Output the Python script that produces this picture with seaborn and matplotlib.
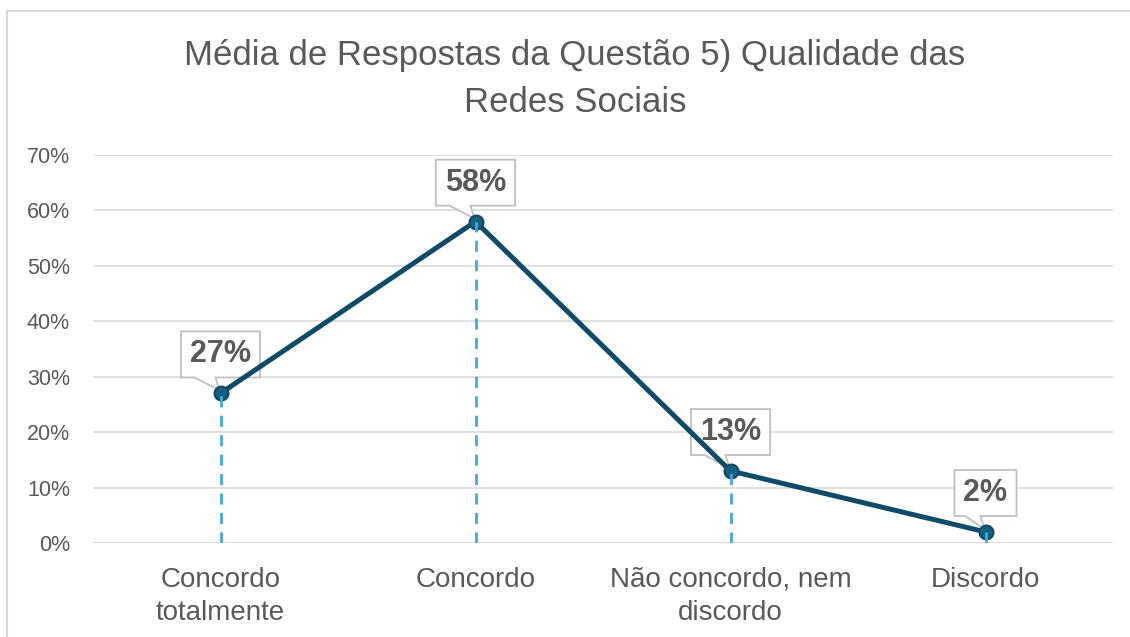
import matplotlib
matplotlib.use("Agg")
import matplotlib.pyplot as plt
import matplotlib.transforms as mtransforms
import seaborn as sns
import pandas as pd
from matplotlib.patches import Polygon
from matplotlib.lines import Line2D
from matplotlib.ticker import PercentFormatter, MultipleLocator

categories = ["Concordo\ntotalmente", "Concordo", "Não concordo, nem\ndiscordo", "Discordo"]
values = [0.27, 0.58, 0.13, 0.02]
labels = ["27%", "58%", "13%", "2%"]
title = "Média de Respostas da Questão 5) Qualidade das\nRedes Sociais"

sns.set_theme(style="white")
plt.rcParams["font.family"] = ["Liberation Sans", "DejaVu Sans"]

TXT = "#595959"
LINE = "#0F4A66"
MARK = "#156082"
DROP = "#45A8DC"
GRID = "#D9D9D9"

df = pd.DataFrame({"cat": categories, "val": values, "pos": range(len(categories))})

fig = plt.figure(figsize=(11.3, 6.37), dpi=100)
ax = fig.add_axes([93 / 1130, 1 - 543 / 637, 1020 / 1130, 388 / 637])

sns.lineplot(data=df, x="pos", y="val", ax=ax, color=LINE, linewidth=3.6, zorder=4,
             marker="o", markersize=10, markerfacecolor=MARK, markeredgecolor=LINE,
             markeredgewidth=1.5)

# drop lines
for p, v in zip(df["pos"], df["val"]):
    ax.plot([p, p], [0, v], color=DROP, linestyle=(0, (4, 3)), linewidth=2, zorder=6)

ax.set_xlim(-0.5, len(categories) - 0.5)
ax.set_ylim(0, 0.70)
ax.yaxis.set_major_locator(MultipleLocator(0.1))
ax.yaxis.set_major_formatter(PercentFormatter(1.0, decimals=0))
ax.set_xticks(list(df["pos"]))
ax.set_xticklabels(categories, fontsize=20, color=TXT, linespacing=1.35)
ax.tick_params(axis="y", labelsize=15.5, labelcolor=TXT, length=0, pad=16.5)
ax.tick_params(axis="x", length=0, pad=17)
ax.grid(axis="y", color=GRID, linewidth=1.2)
ax.set_axisbelow(True)
for s in ax.spines.values():
    s.set_visible(False)
ax.axhline(0, color=GRID, linewidth=1.2, zorder=1)
ax.set_xlabel("")
ax.set_ylabel("")

fig.text(575 / 1130, 1 - 79 / 637, title, ha="center", va="center", fontsize=25,
         color=TXT, linespacing=1.5)

# data labels with callouts
texts = []
for p, v, lab in zip(df["pos"], df["val"], labels):
    t = ax.annotate(lab, xy=(p, v), xytext=(0, 28), textcoords="offset points",
                    ha="center", va="center", fontsize=22, fontweight="bold",
                    color=TXT, zorder=8)
    texts.append((t, p, v))

fig.canvas.draw()
renderer = fig.canvas.get_renderer()
for t, p, v in texts:
    bb = t.get_window_extent(renderer)
    cx = (bb.x0 + bb.x1) / 2
    cy = (bb.y0 + bb.y1) / 2
    hw = bb.width / 2 + 9
    hh = 23
    px, py = ax.transData.transform((p, v))
    L, R = cx - hw, cx + hw
    T, B = cy + hh, cy - hh
    bl = L + 0.17 * (2 * hw)
    br = cx - 5
    verts = [(L, T), (R, T), (R, B), (br, B), (px - 1, py + 3), (bl, B), (L, B)]
    poly = Polygon(verts, closed=True, transform=mtransforms.IdentityTransform(),
                   facecolor="white", edgecolor="#BFBFBF", linewidth=1.3, zorder=3,
                   clip_on=False)
    ax.add_artist(poly)

# chart border (top and left)
fig.add_artist(Line2D([7 / 1130, 1], [1 - 11 / 637, 1 - 11 / 637], color="#D9D9D9", linewidth=1.5))
fig.add_artist(Line2D([7 / 1130, 7 / 1130], [0, 1 - 11 / 637], color="#D9D9D9", linewidth=1.5))

fig.savefig("out.png", dpi=100, facecolor="white")
